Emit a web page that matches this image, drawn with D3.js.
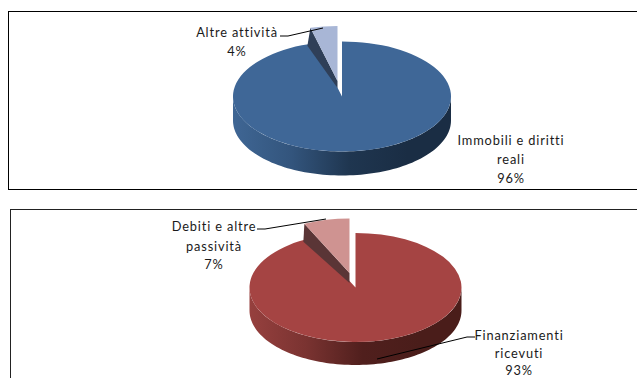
<!DOCTYPE html>
<html>
<head>
<meta charset="utf-8">
<script src="https://cdn.jsdelivr.net/npm/d3@7/dist/d3.min.js"></script>
<style>
html,body{margin:0;padding:0;background:#fff;overflow:hidden}
text{font-family:Lato,"Open Sans",sans-serif;font-size:12.8px;fill:#1a1a1a;text-anchor:middle;letter-spacing:.85px}
</style>
</head>
<body>
<svg id="c" width="637" height="378"></svg>
<script>
// Composition of assets and liabilities
const assetCategories = [["Immobili e diritti","reali"],["Altre attività"]];
const assetValues = [96, 4];
const liabilityCategories = [["Finanziamenti","ricevuti"],["Debiti e altre","passività"]];
const liabilityValues = [93, 7];

const svg = d3.select("#c");
const defs = svg.append("defs");

const charts = [
  { key:"a", names:assetCategories, values:assetValues,
    frame:{x:8.5,y:11.5,w:640,h:178,stroke:"#000"}, cx:342, cy:96.5, rx:109, ry:55, depth:24,
    explode:{dx:-4.5,dy:-15.5}, rimDepth:18, apexDepth:7, rimShift:-3,
    top:"#3f6797", slice:"#a8b6d6", wall:"#2f3f58", side:["#3f6694","#33557d","#1f3650","#1a2d44"],
    labels:[{x:511,y:[145,164,183]},{x:237,y:[37,56]}],
    leaders:[[[280,36],[288,36],[323,28]]] },
  { key:"b", names:liabilityCategories, values:liabilityValues,
    frame:{x:10.5,y:209.5,w:640,h:190,stroke:"#222"}, cx:355.5, cy:287.5, rx:106, ry:54.5, depth:23,
    explode:{dx:-6,dy:-14.5}, rimDepth:18, apexDepth:10, rimShift:-1,
    top:"#a54443", slice:"#cf9391", wall:"#5a3536", side:["#96403e","#7a3331","#501f1d","#4a1d1a"],
    labels:[{x:519,y:[340,358,375]},{x:214,y:[231,251,269]}],
    leaders:[[[257,229],[265,229],[326,219]],[[377,359],[467,337],[475,337]]] }
];

const unit = d3.pie().sort(null).startAngle(0).endAngle(2*Math.PI);

charts.forEach(c => {
  svg.append("rect").attr("x",c.frame.x).attr("y",c.frame.y).attr("width",c.frame.w).attr("height",c.frame.h)
    .attr("fill","#fff").attr("stroke",c.frame.stroke).attr("stroke-width",1);

  const arcs = unit(c.values);
  const arc = d3.arc().innerRadius(0).outerRadius(c.rx);
  const sy = c.ry/c.rx;
  const at = (t,r=1) => [c.cx + c.rx*r*Math.sin(t), c.cy - c.ry*r*Math.cos(t)];

  // Darkening rim of the large slice, shaded from left to right
  const grad = defs.append("linearGradient").attr("id","side-"+c.key);
  c.side.forEach((col,i) => grad.append("stop").attr("offset",i/(c.side.length-1)*0.8).attr("stop-color",col));
  const lower = d3.range(Math.PI/2, 3*Math.PI/2+0.001, Math.PI/90).map(t => at(t));
  const rim = lower.concat(lower.slice().reverse().map(p => [p[0],p[1]+c.depth]));
  svg.append("path").attr("d",d3.line()(rim)+"Z").attr("fill",`url(#side-${c.key})`);

  svg.append("g").attr("transform",`translate(${c.cx},${c.cy}) scale(1,${sy})`)
    .append("path").attr("d",arc(arcs[0])).attr("fill",c.top);

  // Pulled-out slice with its visible cut face
  const corner = at(arcs[1].startAngle);
  const ox = c.explode.dx, oy = c.explode.dy;
  const face = [[c.cx+ox,c.cy+oy],[corner[0]+ox,corner[1]+oy],
    [corner[0]+ox+c.rimShift,corner[1]+oy+c.rimDepth],[c.cx+ox,c.cy+oy+c.apexDepth]];
  svg.append("path").attr("d",d3.line()(face)+"Z").attr("fill",c.wall);
  svg.append("g").attr("transform",`translate(${c.cx+ox},${c.cy+oy}) scale(1,${sy})`)
    .append("path").attr("d",arc(arcs[1])).attr("fill",c.slice);

  c.leaders.forEach(l => svg.append("path").attr("d",d3.line()(l)).attr("fill","none").attr("stroke","#000").attr("stroke-width",1));

  c.labels.forEach((lab,i) => {
    const lines = c.names[i].concat([c.values[i]+"%"]);
    lines.forEach((s,j) => svg.append("text").attr("x",lab.x).attr("y",lab.y[j]).text(s));
  });
});
</script>
</body>
</html>
